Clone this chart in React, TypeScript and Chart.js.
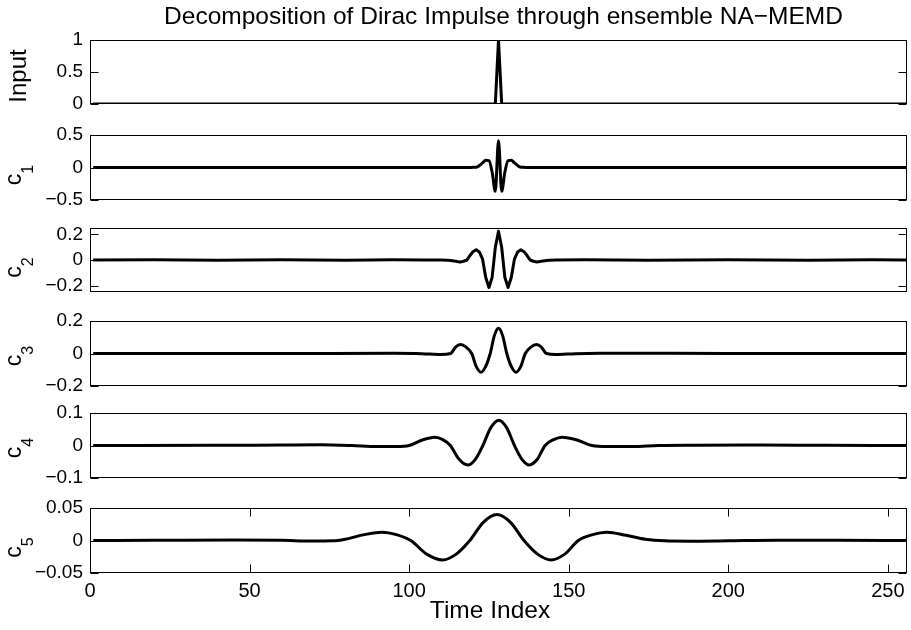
import React, { useEffect, useRef } from "react";
import { Chart, registerables } from "chart.js";
Chart.register(...registerables);

const FONT = '"Liberation Sans", Arial, Helvetica, sans-serif';

// ---------- text ----------
const TITLE = "Decomposition of Dirac Impulse through ensemble NA\u2212MEMD";
const X_LABEL = "Time Index";

// ---------- x axis ----------
const X_MIN = 0;
const X_MAX = 256;
const X_TICKS = [0, 50, 100, 150, 200, 250];

// ---------- series (time index, value) ----------
const inputX = [1, 127, 128, 129, 256];
const inputY = [0, 0, 1, 0, 0];

const c1X = [1, 118, 120, 121, 122, 123, 124, 125, 126, 127, 128, 129, 130, 131, 132, 133, 134, 135, 136, 138, 256];
const c1Y = [0, 0, 0.002, 0.005, 0.03, 0.07, 0.11, 0.105, -0.07, -0.365, 0.41, -0.365, -0.07, 0.105, 0.11, 0.07, 0.03, 0.005, 0.002, 0, 0];

const c2X = [1, 20, 40, 60, 80, 95, 105, 110, 112, 113, 114, 115, 116, 117, 118, 119, 120, 121, 122, 123, 124, 125, 126, 127, 128, 129, 130, 131, 132, 133, 134, 135, 136, 137, 138, 139, 140, 141, 142, 143, 144, 146, 155, 175, 200, 225, 245, 256];
const c2Y = [0, 0.002, -0.002, 0.002, -0.001, 0.002, 0, 0, -0.002, -0.004, -0.007, -0.012, -0.015, -0.01, -0.002, 0.033, 0.065, 0.08, 0.063, 0.007, -0.137, -0.215, -0.137, 0.098, 0.225, 0.098, -0.137, -0.215, -0.137, 0.007, 0.063, 0.08, 0.065, 0.033, -0.002, -0.01, -0.015, -0.012, -0.007, -0.004, -0.002, 0, 0.002, -0.002, 0.002, -0.001, 0.002, 0];

const c3X = [1, 60, 95, 104, 110, 113, 114.55, 116.1, 117.85, 119.6, 121.05, 122.5, 123.95, 125.4, 126.7, 128, 129.3, 130.6, 132.05, 133.5, 134.95, 136.4, 138.15, 139.9, 141.45, 143, 146, 152, 160, 200, 256];
const c3Y = [0, 0.0005, 0.001, -0.001, -0.006, 0, 0.039, 0.055, 0.039, 0, -0.081, -0.115, -0.081, 0, 0.11, 0.155, 0.11, 0, -0.081, -0.115, -0.081, 0, 0.039, 0.055, 0.039, 0, -0.006, -0.001, 0.001, 0.0005, 0];

const c4X = [1, 40, 60, 72, 82, 90, 96, 100, 104.1, 108.2, 110.55, 112.9, 115.65, 118.4, 120.75, 123.1, 125.6, 128.1, 130.55, 133, 135.35, 137.7, 140.15, 142.6, 145.25, 147.9, 152.6, 157.3, 162, 170, 178, 190, 210, 230, 256];
const c4Y = [0, 0.0005, 0.0015, 0.002, 0, -0.003, -0.003, 0, 0.017, 0.0255, 0.018, 0, -0.0425, -0.06, -0.0425, 0, 0.055, 0.078, 0.055, 0, -0.0425, -0.06, -0.0425, 0, 0.018, 0.0255, 0.017, 0, -0.003, -0.003, 0, 0.001, 0.0015, 0.0005, 0];

const c5X = [1, 20, 45, 60, 70, 76, 80, 86, 91.5, 96, 100.5, 105.5, 110.5, 114.75, 119, 123.25, 127.5, 131.75, 136, 140.25, 144.5, 148.75, 153, 157.5, 162, 168, 174, 180, 188, 200, 215, 235, 256];
const c5Y = [0, 0.0003, 0.0008, 0.0002, -0.0008, -0.0005, 0.002, 0.009, 0.0128, 0.009, 0, -0.021, -0.03, -0.021, 0, 0.028, 0.04, 0.028, 0, -0.021, -0.03, -0.021, 0, 0.009, 0.0128, 0.008, 0.002, -0.0005, -0.001, -0.0003, 0.0005, 0.0002, 0];

// ---------- y axes ----------
const inputTicks = [0, 0.5, 1];
const c1Ticks = [-0.5, 0, 0.5];
const c2Ticks = [-0.2, 0, 0.2];
const c3Ticks = [-0.2, 0, 0.2];
const c4Ticks = [-0.1, 0, 0.1];
const c5Ticks = [-0.05, 0, 0.05];

const inputLim = [0, 1];
const c1Lim = [-0.5, 0.5];
const c2Lim = [-0.25, 0.25];
const c3Lim = [-0.2, 0.2];
const c4Lim = [-0.1, 0.1];
const c5Lim = [-0.05, 0.05];

const labelMain = ["Input", "c", "c", "c", "c", "c"];
const labelSub = ["", "1", "2", "3", "4", "5"];

const SERIES = [
  { x: inputX, y: inputY, ticks: inputTicks, lim: inputLim, mode: "straight" },
  { x: c1X, y: c1Y, ticks: c1Ticks, lim: c1Lim, mode: "monotone" },
  { x: c2X, y: c2Y, ticks: c2Ticks, lim: c2Lim, mode: "straight" },
  { x: c3X, y: c3Y, ticks: c3Ticks, lim: c3Lim, mode: "monotone" },
  { x: c4X, y: c4Y, ticks: c4Ticks, lim: c4Lim, mode: "monotone" },
  { x: c5X, y: c5Y, ticks: c5Ticks, lim: c5Lim, mode: "monotone" },
];

// ---------- layout (pixels) ----------
const W = 911;
const H = 630;
const PLOT_LEFT = 90;
const PLOT_RIGHT = 907;
const PANEL_TOP = [40, 135, 228, 321, 413, 508];
const PANEL_BOTTOM = [104, 200, 292, 386, 478, 573];
const PAD = 22;
const LABEL_SHIFT = [4, 7.5, 7.5, 2.5, 2.5, 7];
const INPUT_LABEL_X = 26;
const C_LABEL_X = 20.5;
const SUB_DROP = 12.5;
const TICK_LEN = 8;

function fmt(v: number): string {
  const s = String(Math.abs(v));
  return v < 0 ? "\u2212" + s : s;
}

function Panel({ index }: { index: number }) {
  const ref = useRef<HTMLCanvasElement>(null);
  const isFirst = index === 0;
  const isLast = index === SERIES.length - 1;
  const canvasTop = isFirst ? 0 : Math.floor(PANEL_TOP[index] - PAD);
  const canvasBottom = isLast ? H : Math.ceil(PANEL_BOTTOM[index] + PAD);
  const h = canvasBottom - canvasTop;

  useEffect(() => {
    const s = SERIES[index];
    const padTop = PANEL_TOP[index] - canvasTop;
    const padBottom = isLast ? 0 : canvasBottom - PANEL_BOTTOM[index];
    const xAxisHeight = H - PANEL_BOTTOM[index];

    const decor = {
      id: "matlabDecor" + index,
      afterDatasetsDraw(chart: any) {
        const { ctx, chartArea, scales } = chart;
        const { left, right, top, bottom } = chartArea;
        const xs = scales.x;
        const ys = scales.y;
        ctx.save();
        ctx.strokeStyle = "#000";
        ctx.lineWidth = 1;
        const L = Math.round(left) + 0.5;
        const R = Math.round(right) - 0.5;
        const T = Math.round(top) + 0.5;
        const B = Math.round(bottom) - 0.5;
        ctx.strokeRect(L, T, R - L, B - T);
        ctx.beginPath();
        for (const t of ys.ticks) {
          const py = Math.round(ys.getPixelForValue(t.value)) + 0.5;
          ctx.moveTo(L, py);
          ctx.lineTo(L + TICK_LEN, py);
          ctx.moveTo(R, py);
          ctx.lineTo(R - TICK_LEN, py);
        }
        if (isLast) {
          for (const t of xs.ticks) {
            const px = Math.round(xs.getPixelForValue(t.value)) + 0.5;
            ctx.moveTo(px, B);
            ctx.lineTo(px, B - TICK_LEN);
            ctx.moveTo(px, T);
            ctx.lineTo(px, T + TICK_LEN);
          }
        }
        ctx.stroke();

        // y label
        ctx.fillStyle = "#000";
        const cy = (top + bottom) / 2 + LABEL_SHIFT[index];
        const main = labelMain[index];
        const sub = labelSub[index];
        ctx.save();
        if (!sub) {
          ctx.font = `24px ${FONT}`;
          ctx.translate(INPUT_LABEL_X, cy);
          ctx.rotate(-Math.PI / 2);
          ctx.textAlign = "center";
          ctx.textBaseline = "alphabetic";
          ctx.fillText(main, 0, 0);
        } else {
          ctx.font = `23px ${FONT}`;
          const wMain = ctx.measureText(main).width;
          ctx.font = `16px ${FONT}`;
          const wSub = ctx.measureText(sub).width;
          const total = wMain + wSub;
          ctx.translate(C_LABEL_X, cy);
          ctx.rotate(-Math.PI / 2);
          ctx.textAlign = "left";
          ctx.textBaseline = "alphabetic";
          ctx.font = `23px ${FONT}`;
          ctx.fillText(main, -total / 2, 0);
          ctx.font = `16px ${FONT}`;
          ctx.fillText(sub, -total / 2 + wMain, SUB_DROP);
        }
        ctx.restore();

        if (isFirst) {
          ctx.font = `24.5px ${FONT}`;
          ctx.textAlign = "center";
          ctx.textBaseline = "alphabetic";
          ctx.fillText(TITLE, 503.5, 24 - canvasTop);
        }
        if (isLast) {
          ctx.font = `24.5px ${FONT}`;
          ctx.textAlign = "center";
          ctx.textBaseline = "alphabetic";
          ctx.fillText(X_LABEL, 490, 618 - canvasTop);
        }
        ctx.restore();
      },
    };

    const chart = new Chart(ref.current as HTMLCanvasElement, {
      type: "line",
      data: {
        datasets: [
          {
            data: s.x.map((xv, i) => ({ x: xv, y: s.y[i] })),
            borderColor: "#000",
            borderWidth: 3,
            pointRadius: 0,
            fill: false,
            tension: 0,
            cubicInterpolationMode: s.mode === "monotone" ? "monotone" : "default",
            borderJoinStyle: "round",
            borderCapStyle: "butt",
          } as any,
        ],
      },
      options: {
        animation: false,
        responsive: false,
        maintainAspectRatio: false,
        devicePixelRatio: 1,
        events: [],
        layout: {
          padding: { left: 0, right: W - PLOT_RIGHT, top: padTop, bottom: padBottom },
        },
        plugins: {
          legend: { display: false },
          tooltip: { enabled: false },
          title: { display: false },
        },
        scales: {
          x: {
            type: "linear",
            min: X_MIN,
            max: X_MAX,
            display: isLast,
            afterBuildTicks: (scale: any) => {
              scale.ticks = X_TICKS.map((v) => ({ value: v }));
            },
            afterFit: (scale: any) => {
              if (isLast) scale.height = xAxisHeight;
            },
            grid: { display: false, drawTicks: false },
            border: { display: false },
            ticks: {
              autoSkip: false,
              maxRotation: 0,
              minRotation: 0,
              padding: 6,
              color: "#000",
              font: { family: FONT, size: 20 },
              callback: (v: any) => fmt(Number(v)),
            },
          },
          y: {
            type: "linear",
            min: s.lim[0],
            max: s.lim[1],
            afterBuildTicks: (scale: any) => {
              scale.ticks = s.ticks.map((v) => ({ value: v }));
            },
            afterFit: (scale: any) => {
              scale.width = PLOT_LEFT;
            },
            grid: { display: false, drawTicks: false },
            border: { display: false },
            ticks: {
              autoSkip: false,
              padding: 7,
              color: "#000",
              font: { family: FONT, size: 19 },
              callback: (v: any) => fmt(Number(v)),
            },
          },
        },
      } as any,
      plugins: [decor],
    });
    return () => chart.destroy();
  }, [index]);

  return (
    <canvas
      ref={ref}
      width={W}
      height={h}
      style={{ position: "absolute", left: 0, top: canvasTop, width: W, height: h, display: "block" }}
    />
  );
}

export default function App() {
  return (
    <div style={{ position: "fixed", left: 0, top: 0, width: W, height: H, background: "#fff", overflow: "hidden" }}>
      {SERIES.map((_, i) => (
        <Panel key={i} index={i} />
      ))}
    </div>
  );
}
